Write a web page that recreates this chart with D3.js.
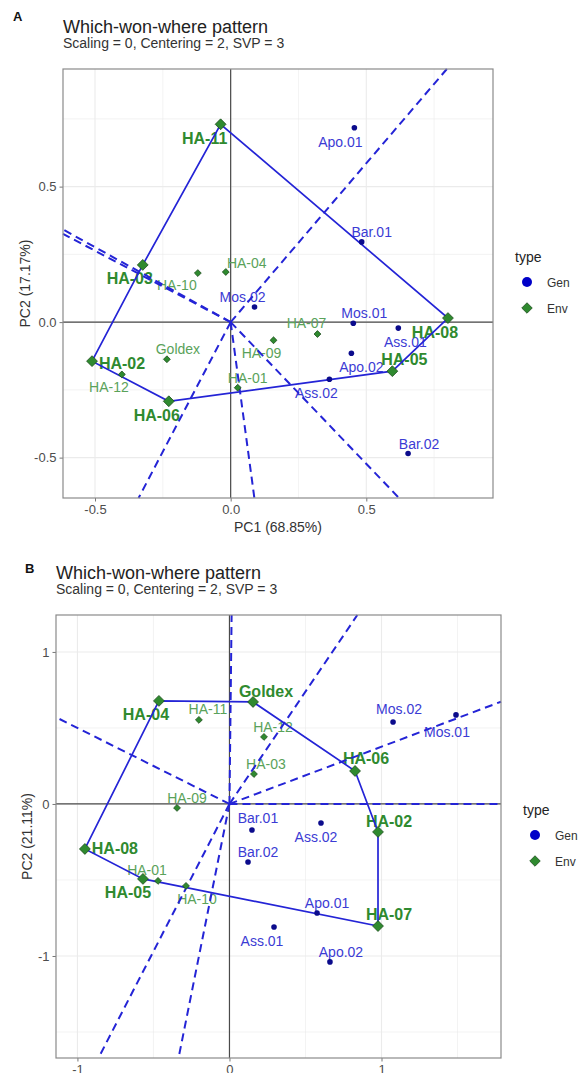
<!DOCTYPE html>
<html>
<head>
<meta charset="utf-8">
<script src="https://cdn.jsdelivr.net/npm/d3@7"></script>
<style>
  body { margin: 0; background: #fff; }
  text { font-family: "Liberation Sans", Arial, sans-serif; }
</style>
</head>
<body>
<svg id="chart" width="579" height="1073"></svg>
<script>
// ---- Panel A values ----
const genNamesA = ["Apo.01", "Bar.01", "Mos.02", "Mos.01", "Ass.01", "Apo.02", "Ass.02", "Bar.02"];
const genXA = [0.456, 0.483, 0.088, 0.452, 0.618, 0.445, 0.364, 0.654];
const genYA = [0.717, 0.296, 0.056, -0.004, -0.022, -0.115, -0.211, -0.485];
const envNamesA = ["HA-11", "HA-03", "HA-10", "HA-04", "HA-02", "HA-12", "Goldex", "HA-06", "HA-09", "HA-01", "HA-07", "HA-05", "HA-08"];
const envXA = [-0.037, -0.324, -0.121, -0.018, -0.511, -0.401, -0.235, -0.228, 0.158, 0.026, 0.320, 0.596, 0.801];
const envYA = [0.730, 0.211, 0.181, 0.185, -0.144, -0.193, -0.137, -0.292, -0.067, -0.242, -0.044, -0.181, 0.015];
const ticksA = [-0.5, 0, 0.5];

// ---- Panel B values ----
const genNamesB = ["Mos.02", "Mos.01", "Bar.01", "Bar.02", "Ass.01", "Ass.02", "Apo.01", "Apo.02"];
const genXB = [1.076, 1.490, 0.148, 0.122, 0.293, 0.602, 0.576, 0.661];
const genYB = [0.539, 0.586, -0.171, -0.382, -0.809, -0.125, -0.717, -1.039];
const envNamesB = ["HA-04", "Goldex", "HA-11", "HA-12", "HA-03", "HA-06", "HA-09", "HA-08", "HA-05", "HA-01", "HA-10", "HA-02", "HA-07"];
const envXB = [-0.464, 0.155, -0.201, 0.227, 0.161, 0.826, -0.345, -0.951, -0.569, -0.470, -0.286, 0.977, 0.977];
const envYB = [0.678, 0.671, 0.553, 0.441, 0.197, 0.217, -0.026, -0.296, -0.493, -0.506, -0.539, -0.184, -0.803];
const ticksB = [-1, 0, 1];

// label nudges in pixels (stand-in for the repel placement of the original)
const nudgeA = {
  "Apo.01": [-14, 14], "Bar.01": [10, -10], "Mos.02": [-12, -10], "Mos.01": [11, -10],
  "Ass.01": [7, 14], "Apo.02": [10, 14], "Ass.02": [-13, 14], "Bar.02": [11, -10],
  "HA-11": [-16, 14], "HA-03": [-13, 14], "HA-10": [-21, 12], "HA-04": [21, -9],
  "HA-02": [30, 2], "HA-12": [-13, 13], "Goldex": [11, -10], "HA-06": [-12, 14],
  "HA-09": [-12, 13], "HA-01": [10, -10], "HA-07": [-11, -11], "HA-05": [12, -12], "HA-08": [-13, 14]
};
const nudgeB = {
  "Mos.02": [6, -13], "Mos.01": [-9, 17], "Bar.01": [6, -12], "Bar.02": [10, -10],
  "Ass.01": [-12, 14], "Ass.02": [-5, 14], "Apo.01": [10, -10], "Apo.02": [11, -10],
  "HA-04": [-13, 14], "Goldex": [13, -10], "HA-11": [9, -11], "HA-12": [9, -10],
  "HA-03": [12, -10], "HA-06": [11, -12], "HA-09": [10, -10], "HA-08": [30, 0],
  "HA-05": [-15, 14], "HA-01": [-11, -11], "HA-10": [11, 13], "HA-02": [11, -10], "HA-07": [11, -12]
};

const svg = d3.select("#chart");
const blue = "#2424d6";
const navy = "#0b0b8c";
const green = "#2f8a2f";
const lightGreen = "#5aa25a";
const genText = "#3b3bd4";

function drawPanel(p) {
  const x = d3.scaleLinear().domain(p.xDom).range([p.left, p.right]);
  const y = d3.scaleLinear().domain(p.yDom).range([p.bottom, p.top]);
  const g = svg.append("g");
  const fmt = d => p.fmt(d).replace("\u2212", "-");

  // tag + titles
  g.append("text").attr("x", p.tagX).attr("y", p.tagY).attr("font-size", 13)
    .attr("font-weight", "bold").attr("fill", "#111").text(p.tag);
  g.append("text").attr("x", p.left).attr("y", p.titleY).attr("font-size", 18)
    .attr("fill", "#222").text("Which-won-where pattern");
  g.append("text").attr("x", p.left).attr("y", p.titleY + 15).attr("font-size", 14)
    .attr("fill", "#333").text("Scaling = 0, Centering = 2, SVP = 3");

  // grid
  const grid = g.append("g").attr("stroke", "#ebebeb");
  grid.selectAll(".mx").data(p.minorX).join("line")
    .attr("x1", d => x(d)).attr("x2", d => x(d)).attr("y1", p.top).attr("y2", p.bottom)
    .attr("stroke-width", 0.6);
  grid.selectAll(".my").data(p.minorY).join("line")
    .attr("y1", d => y(d)).attr("y2", d => y(d)).attr("x1", p.left).attr("x2", p.right)
    .attr("stroke-width", 0.6);
  grid.selectAll(".gx").data(p.ticks).join("line")
    .attr("x1", d => x(d)).attr("x2", d => x(d)).attr("y1", p.top).attr("y2", p.bottom)
    .attr("stroke-width", 1.1);
  grid.selectAll(".gy").data(p.ticks).join("line")
    .attr("y1", d => y(d)).attr("y2", d => y(d)).attr("x1", p.left).attr("x2", p.right)
    .attr("stroke-width", 1.1);

  // zero lines
  g.append("line").attr("x1", x(0)).attr("x2", x(0)).attr("y1", p.top).attr("y2", p.bottom)
    .attr("stroke", "#4a4a4a").attr("stroke-width", 1.2);
  g.append("line").attr("y1", y(0)).attr("y2", y(0)).attr("x1", p.left).attr("x2", p.right)
    .attr("stroke", "#4a4a4a").attr("stroke-width", 1.2);

  // axes
  const xAxis = g.append("g").attr("transform", `translate(0,${p.bottom})`)
    .call(d3.axisBottom(x).tickValues(p.ticks).tickSize(3.5).tickPadding(3).tickFormat(fmt));
  const yAxis = g.append("g").attr("transform", `translate(${p.left},0)`)
    .call(d3.axisLeft(y).tickValues(p.ticks).tickSize(3.5).tickPadding(3).tickFormat(fmt));
  [xAxis, yAxis].forEach(a => {
    a.select(".domain").remove();
    a.selectAll(".tick line").attr("stroke", "#777");
    a.selectAll(".tick text").attr("fill", "#4d4d4d").attr("font-size", 13)
      .attr("font-family", "Liberation Sans, Arial, sans-serif");
  });

  // axis titles (panel B's x title lies below the visible page in the reference)
  if (p.xLabel) {
    g.append("text").attr("x", (p.left + p.right) / 2).attr("y", p.bottom + 34)
      .attr("text-anchor", "middle").attr("font-size", 14).attr("fill", "#333").text(p.xLabel);
  }
  g.append("text").attr("transform", `translate(${p.yLabelX},${(p.top + p.bottom) / 2}) rotate(-90)`)
    .attr("text-anchor", "middle").attr("font-size", 14).attr("fill", "#333").text(p.yLabel);

  const gen = p.genNames.map((n, i) => ({ name: n, x: p.genX[i], y: p.genY[i] }));
  const env = p.envNames.map((n, i) => ({ name: n, x: p.envX[i], y: p.envY[i] }));

  // convex hull of the Env points
  const hull = d3.polygonHull(env.map(d => [d.x, d.y]));
  const onHull = new Set(hull.map(h => env.find(d => d.x === h[0] && d.y === h[1]).name));

  // labels
  const lab = g.append("g").attr("text-anchor", "middle").attr("dominant-baseline", "central");
  lab.selectAll(".gl").data(gen).join("text")
    .attr("x", d => x(d.x) + p.nudge[d.name][0]).attr("y", d => y(d.y) + p.nudge[d.name][1])
    .attr("font-size", 14).attr("fill", genText).text(d => d.name);
  lab.selectAll(".el").data(env).join("text")
    .attr("x", d => x(d.x) + p.nudge[d.name][0]).attr("y", d => y(d.y) + p.nudge[d.name][1])
    .attr("font-size", d => onHull.has(d.name) ? 16 : 14)
    .attr("font-weight", d => onHull.has(d.name) ? "bold" : "normal")
    .attr("fill", d => onHull.has(d.name) ? green : lightGreen).text(d => d.name);

  // hull polygon
  g.append("path")
    .attr("d", d3.line().x(d => x(d[0])).y(d => y(d[1])).curve(d3.curveLinearClosed)(hull))
    .attr("fill", "none").attr("stroke", blue).attr("stroke-width", 1.7);

  // rays from origin, perpendicular to each hull side, out to the panel edge
  const rays = hull.map((a, i) => {
    const b = hull[(i + 1) % hull.length];
    const dx = b[0] - a[0], dy = b[1] - a[1];
    const t = -(a[0] * dx + a[1] * dy) / (dx * dx + dy * dy);
    const fx = a[0] + t * dx, fy = a[1] + t * dy;
    const s = Math.min(
      fx > 0 ? p.xDom[1] / fx : fx < 0 ? p.xDom[0] / fx : Infinity,
      fy > 0 ? p.yDom[1] / fy : fy < 0 ? p.yDom[0] / fy : Infinity);
    return [fx * s, fy * s];
  });
  g.selectAll(".ray").data(rays).join("line")
    .attr("x1", x(0)).attr("y1", y(0))
    .attr("x2", d => x(d[0])).attr("y2", d => y(d[1]))
    .attr("stroke", blue).attr("stroke-width", 2).attr("stroke-dasharray", "8,5");

  // points
  g.selectAll(".gp").data(gen).join("circle")
    .attr("cx", d => x(d.x)).attr("cy", d => y(d.y)).attr("r", 2.8).attr("fill", navy);
  g.selectAll(".ep").data(env).join("path")
    .attr("transform", d => `translate(${x(d.x)},${y(d.y)})`)
    .attr("d", d => d3.symbol(d3.symbolDiamond2, onHull.has(d.name) ? 75 : 30)())
    .attr("fill", green).attr("stroke", "#1d4d1d").attr("stroke-width", 0.8);

  // panel border
  g.append("rect").attr("x", p.left).attr("y", p.top)
    .attr("width", p.right - p.left).attr("height", p.bottom - p.top)
    .attr("fill", "none").attr("stroke", "#8a8a8a").attr("stroke-width", 1.2);

  // legend
  const lg = g.append("g").attr("transform", `translate(${p.right + 22},${p.legendY})`);
  lg.append("text").attr("x", 0).attr("y", 0).attr("font-size", 14).attr("fill", "#222").text("type");
  lg.append("circle").attr("cx", 12).attr("cy", 20).attr("r", 5).attr("fill", "#0000c8");
  lg.append("text").attr("x", 32).attr("y", 25).attr("font-size", 12).attr("fill", "#333").text("Gen");
  lg.append("path").attr("transform", "translate(12,46)")
    .attr("d", d3.symbol(d3.symbolDiamond2, 70)())
    .attr("fill", green).attr("stroke", "#1d4d1d").attr("stroke-width", 0.8);
  lg.append("text").attr("x", 32).attr("y", 51).attr("font-size", 12).attr("fill", "#333").text("Env");
}

drawPanel({
  tag: "A", tagX: 13, tagY: 21, titleY: 33,
  left: 63, right: 493, top: 69, bottom: 498,
  xDom: [-0.618, 0.967], yDom: [-0.649, 0.934],
  ticks: ticksA, minorX: [-0.25, 0.25, 0.75], minorY: [-0.25, 0.25, 0.75],
  fmt: d3.format(".1f"),
  xLabel: "PC1 (68.85%)", yLabel: "PC2 (17.17%)", yLabelX: 30,
  genNames: genNamesA, genX: genXA, genY: genYA,
  envNames: envNamesA, envX: envXA, envY: envYA,
  nudge: nudgeA, legendY: 262
});

drawPanel({
  tag: "B", tagX: 25, tagY: 573, titleY: 579,
  left: 56, right: 501, top: 615, bottom: 1058,
  xDom: [-1.141, 1.786], yDom: [-1.671, 1.243],
  ticks: ticksB, minorX: [-0.5, 0.5, 1.5], minorY: [-1.5, -0.5, 0.5],
  fmt: d3.format("d"),
  xLabel: null, yLabel: "PC2 (21.11%)", yLabelX: 32,
  genNames: genNamesB, genX: genXB, genY: genYB,
  envNames: envNamesB, envX: envXB, envY: envYB,
  nudge: nudgeB, legendY: 815
});
</script>
</body>
</html>
